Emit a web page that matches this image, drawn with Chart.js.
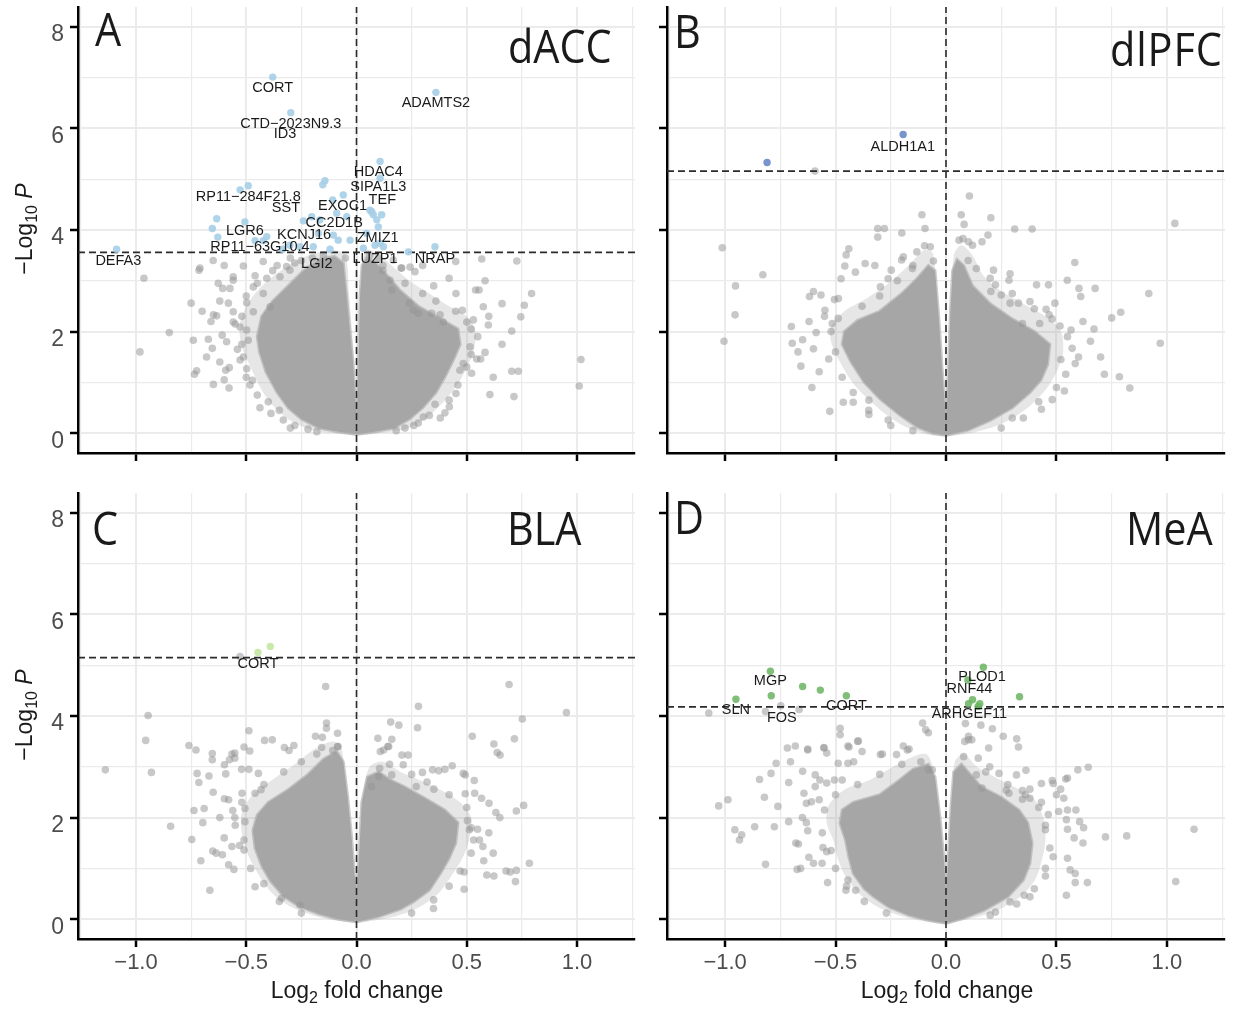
<!DOCTYPE html>
<html>
<head>
<meta charset="utf-8">
<script src="https://cdn.jsdelivr.net/npm/chart.js@4.4.1/dist/chart.umd.min.js"></script>
<style>
  html,body{margin:0;padding:0;background:#fff;}
  body{width:1238px;height:1010px;position:relative;overflow:hidden;font-family:"Liberation Sans",Arial,sans-serif;}
  canvas{position:absolute;}
  .big{position:absolute;font-family:"Open Sans",sans-serif;font-size:46px;line-height:46px;color:#1a1a1a;transform-origin:0 0;transform:scaleX(0.9);white-space:nowrap;}
  .ytitle{position:absolute;width:200px;height:26px;line-height:26px;font-size:23px;color:#1a1a1a;text-align:center;transform:rotate(-90deg);transform-origin:50% 50%;white-space:nowrap;}
  .xtitle{position:absolute;width:300px;height:26px;line-height:26px;font-size:23px;color:#1a1a1a;text-align:center;white-space:nowrap;}
  sub{font-size:16px;line-height:0;vertical-align:-5px;}
</style>
</head>
<body>
<canvas id="cA" width="640" height="480" style="left:0px;top:0px"></canvas>
<canvas id="cB" width="598" height="480" style="left:640px;top:0px"></canvas>
<canvas id="cC" width="640" height="530" style="left:0px;top:480px"></canvas>
<canvas id="cD" width="598" height="530" style="left:640px;top:480px"></canvas>

<div class="big" style="left:95px;top:5px">A</div>
<div class="big" style="left:674px;top:7px">B</div>
<div class="big" style="left:92px;top:504px">C</div>
<div class="big" style="left:674px;top:493px">D</div>
<div class="big" style="left:508px;top:22px">dACC</div>
<div class="big" style="left:1110px;top:25px;letter-spacing:1px">dlPFC</div>
<div class="big" style="left:507px;top:504px">BLA</div>
<div class="big" style="left:1126px;top:504px">MeA</div>

<div class="ytitle" style="left:-76px;top:216px">&minus;Log<sub>10</sub> <i>P</i></div>
<div class="ytitle" style="left:-76px;top:702px">&minus;Log<sub>10</sub> <i>P</i></div>
<div class="xtitle" style="left:207px;top:977px">Log<sub>2</sub> fold change</div>
<div class="xtitle" style="left:797px;top:977px">Log<sub>2</sub> fold change</div>

<script>
// ---------- axes ----------
const X_MIN = -1.263, X_MAX = 1.263, Y_MIN = -0.39, Y_MAX = 8.39;
const xGridValues = [-1.25, -1, -0.75, -0.5, -0.25, 0, 0.25, 0.5, 0.75, 1, 1.25];
const xMajorValues = [-1, -0.5, 0, 0.5, 1];
const xTickText = ['\u22121.0', '\u22120.5', '0.0', '0.5', '1.0'];
const yGridValues = [0, 1, 2, 3, 4, 5, 6, 7, 8];
const yMajorValues = [0, 2, 4, 6, 8];
const yTickText = ['0', '2', '4', '6', '8'];

// ---------- significance thresholds (-log10 P) ----------
const thresholdA = 3.56, thresholdB = 5.16, thresholdC = 5.15, thresholdD = 4.18;

// ---------- dense cores of the gene clouds ----------
const coreA = [[0,-0.02],[-0.08,0.03],[-0.17,0.1],[-0.25,0.28],[-0.31,0.5],[-0.36,0.8],[-0.41,1.2],[-0.44,1.6],[-0.45,1.9],[-0.43,2.3],[-0.38,2.6],[-0.31,2.9],[-0.24,3.2],[-0.17,3.42],[-0.1,3.48],[-0.06,3.35],[-0.045,2.7],[-0.03,2.0],[-0.016,1.4],[-0.006,0.7],[0,0.35],[0.005,0.7],[0.01,1.5],[0.016,2.7],[0.025,3.3],[0.045,3.45],[0.08,3.38],[0.14,3.1],[0.2,2.8],[0.28,2.5],[0.38,2.25],[0.46,2.05],[0.47,1.75],[0.44,1.45],[0.4,1.1],[0.36,0.8],[0.3,0.5],[0.24,0.28],[0.17,0.1],[0.08,0.03],[0,-0.02]];
const coreB = [[0,-0.04],[-0.06,0.0],[-0.13,0.12],[-0.21,0.36],[-0.3,0.68],[-0.37,1.0],[-0.43,1.4],[-0.47,1.75],[-0.46,2.0],[-0.4,2.22],[-0.3,2.4],[-0.2,2.75],[-0.13,3.05],[-0.08,3.3],[-0.05,3.2],[-0.033,2.3],[-0.018,1.3],[-0.006,0.6],[0,0.35],[0.005,0.6],[0.012,1.4],[0.02,2.4],[0.03,3.2],[0.05,3.42],[0.08,3.3],[0.12,2.9],[0.2,2.55],[0.3,2.25],[0.4,2.0],[0.47,1.75],[0.46,1.35],[0.43,1.05],[0.38,0.8],[0.3,0.5],[0.2,0.25],[0.1,0.06],[0,-0.04]];
const coreC = [[0,-0.05],[-0.08,0.0],[-0.17,0.1],[-0.26,0.25],[-0.33,0.45],[-0.39,0.75],[-0.43,1.05],[-0.46,1.4],[-0.47,1.75],[-0.45,2.05],[-0.4,2.3],[-0.31,2.55],[-0.22,2.85],[-0.15,3.15],[-0.09,3.3],[-0.06,3.1],[-0.04,2.4],[-0.022,1.6],[-0.01,0.9],[0,0.6],[0.007,0.9],[0.016,1.6],[0.024,2.3],[0.05,2.8],[0.1,2.9],[0.15,2.75],[0.22,2.6],[0.31,2.38],[0.4,2.15],[0.46,1.9],[0.45,1.5],[0.42,1.2],[0.38,0.9],[0.33,0.57],[0.26,0.35],[0.2,0.2],[0.1,0.05],[0,-0.05]];
const coreD = [[0,-0.08],[-0.08,-0.02],[-0.17,0.08],[-0.26,0.24],[-0.33,0.45],[-0.37,0.6],[-0.42,0.9],[-0.44,1.23],[-0.455,1.56],[-0.48,1.89],[-0.47,2.15],[-0.42,2.3],[-0.3,2.45],[-0.21,2.74],[-0.15,2.95],[-0.08,3.05],[-0.05,2.8],[-0.027,2.0],[-0.01,1.2],[0,0.55],[0.008,1.0],[0.015,1.6],[0.024,2.3],[0.035,2.9],[0.07,3.05],[0.11,2.85],[0.16,2.6],[0.25,2.4],[0.33,2.15],[0.37,1.9],[0.39,1.5],[0.38,1.1],[0.35,0.77],[0.28,0.44],[0.17,0.17],[0.08,0.02],[0,-0.08]];

// ---------- looser fringe around each core ----------
const fringeA = [[0,-0.05],[-0.1,0.0],[-0.2,0.06],[-0.3,0.25],[-0.37,0.5],[-0.43,0.85],[-0.48,1.3],[-0.52,1.7],[-0.53,2.1],[-0.5,2.5],[-0.44,2.85],[-0.36,3.15],[-0.27,3.4],[-0.18,3.55],[-0.1,3.6],[-0.05,3.5],[-0.035,2.8],[-0.02,2.0],[-0.008,1.2],[0,0.5],[0.008,1.2],[0.015,2.2],[0.022,3.0],[0.04,3.6],[0.09,3.55],[0.16,3.3],[0.24,3.0],[0.33,2.75],[0.42,2.5],[0.5,2.3],[0.54,2.0],[0.53,1.6],[0.49,1.2],[0.44,0.85],[0.38,0.55],[0.31,0.28],[0.22,0.08],[0.1,0.0],[0,-0.05]];
const fringeB = [[0,-0.07],[-0.09,-0.02],[-0.17,0.1],[-0.25,0.3],[-0.34,0.62],[-0.42,0.98],[-0.48,1.4],[-0.52,1.8],[-0.52,2.1],[-0.46,2.4],[-0.36,2.65],[-0.26,2.95],[-0.17,3.3],[-0.1,3.6],[-0.06,3.55],[-0.04,2.6],[-0.022,1.5],[-0.008,0.7],[0,0.3],[0.007,0.7],[0.016,1.6],[0.026,2.6],[0.035,3.5],[0.07,3.7],[0.12,3.5],[0.17,3.1],[0.25,2.8],[0.35,2.55],[0.45,2.3],[0.52,2.0],[0.53,1.6],[0.5,1.2],[0.45,0.85],[0.37,0.5],[0.26,0.2],[0.13,0.02],[0,-0.07]];
const fringeC = [[0,-0.08],[-0.1,-0.02],[-0.2,0.08],[-0.3,0.25],[-0.38,0.5],[-0.44,0.85],[-0.49,1.25],[-0.52,1.7],[-0.52,2.1],[-0.47,2.45],[-0.38,2.75],[-0.28,3.05],[-0.19,3.35],[-0.11,3.5],[-0.07,3.4],[-0.05,2.6],[-0.028,1.7],[-0.012,0.9],[0,0.55],[0.009,0.9],[0.02,1.7],[0.03,2.5],[0.06,3.0],[0.12,3.1],[0.2,2.9],[0.28,2.75],[0.38,2.55],[0.47,2.3],[0.52,2.0],[0.51,1.55],[0.48,1.2],[0.43,0.85],[0.37,0.5],[0.29,0.25],[0.18,0.06],[0,-0.08]];
const fringeD = [[0,-0.1],[-0.1,-0.04],[-0.2,0.06],[-0.3,0.22],[-0.38,0.45],[-0.45,0.8],[-0.49,1.2],[-0.51,1.56],[-0.54,1.9],[-0.53,2.25],[-0.46,2.55],[-0.34,2.75],[-0.24,3.0],[-0.15,3.2],[-0.09,3.25],[-0.06,3.0],[-0.035,2.1],[-0.015,1.2],[0,0.5],[0.012,1.1],[0.02,1.7],[0.03,2.4],[0.04,3.1],[0.08,3.25],[0.14,3.0],[0.22,2.8],[0.31,2.6],[0.4,2.35],[0.44,2.0],[0.45,1.55],[0.43,1.1],[0.4,0.75],[0.33,0.42],[0.22,0.15],[0.1,0.0],[0,-0.1]];

// ---------- non-significant genes outside the dense core ----------
const grayA = [[-0.964,3.05],[-0.714,3.21],[-0.75,2.56],[-0.849,1.98],[-0.982,1.60],[-0.74,1.83],[-0.672,1.85],[-0.654,1.67],[-0.609,1.93],[-0.589,1.80],[-0.735,1.16],[-0.725,1.23],[-0.649,0.96],[-0.578,0.89],[-0.593,1.24],[-0.577,1.29],[-0.54,1.65],[-0.498,1.27],[-0.483,0.95],[-0.472,1.04],[-0.438,0.50],[-0.388,0.39],[-0.332,0.26],[-0.627,2.95],[-0.607,2.85],[-0.574,2.85],[-0.559,3.01],[-0.513,3.29],[-0.423,3.38],[-0.649,2.33],[-0.634,2.31],[-0.581,2.56],[-0.559,2.39],[-0.498,2.57],[-0.468,2.39],[-0.559,2.19],[-0.528,2.09],[-0.498,2.03],[-0.468,2.88],[-0.407,3.05],[-0.347,3.08],[-0.302,3.21],[-0.423,2.75],[-0.392,2.49],[-0.513,1.50],[-0.528,1.44],[-0.491,1.83],[-0.71,3.25],[-0.559,3.08],[-0.317,3.28],[-0.25,3.4],[-0.2,3.45],[-0.15,3.5],[-0.05,3.45],[-0.28,3.35],[-0.38,3.2],[-0.46,3.1],[0.568,3.43],[0.727,3.39],[0.583,3.0],[0.54,2.82],[0.556,2.82],[0.451,2.75],[0.794,2.75],[0.761,2.52],[0.745,2.29],[0.704,2.01],[0.575,2.49],[0.598,2.13],[0.48,2.42],[0.583,1.59],[0.545,1.46],[0.563,1.46],[0.704,1.22],[0.734,1.22],[1.018,1.45],[1.01,0.93],[0.605,0.76],[0.714,0.72],[0.484,1.37],[0.522,1.18],[0.469,1.24],[0.451,0.78],[0.421,0.52],[0.401,0.4],[0.356,0.57],[0.303,0.32],[0.379,2.33],[0.394,2.19],[0.341,2.36],[0.258,2.42],[0.28,2.36],[0.24,2.56],[0.202,3.25],[0.243,3.27],[0.265,3.18],[0.152,3.01],[0.16,2.82],[0.515,1.7],[0.53,2.23],[0.5,2.19],[0.167,3.41],[0.205,3.25],[0.1,3.45],[0.06,3.5],[0.12,3.3],[-0.28,0.15],[-0.22,0.08],[-0.35,0.45],[0.26,0.15],[0.33,0.35],[0.22,0.1],[-0.52,2.3],[-0.55,2.15],[-0.5,2.7],[-0.45,2.95],[-0.36,3.3],[-0.3,3.45],[-0.52,1.75],[-0.5,1.1],[-0.45,0.75],[-0.4,0.62],[-0.3,0.1],[-0.18,0.03],[0.42,0.65],[0.46,0.95],[0.5,1.3],[0.52,1.55],[0.55,1.9],[0.52,2.05],[0.45,2.4],[0.36,2.6],[0.3,2.75],[0.22,2.95],[0.12,3.2],[0.18,0.05],[0.38,0.3],[0.28,0.2],[-0.62,2.6],[-0.66,2.2],[-0.7,2.4],[-0.68,1.5],[-0.62,1.4],[-0.6,1.05],[0.62,1.1],[0.66,1.75],[0.6,2.3],[0.66,2.55],[0.35,2.9],[0.42,3.05],[0.3,3.3],[-0.6,3.3],[-0.65,3.4],[0.45,3.38]];
const grayB = [[0.106,4.67],[1.036,4.13],[-1.013,3.65],[-0.829,3.12],[-0.953,2.90],[-0.955,2.33],[-1.005,1.81],[-0.109,4.3],[-0.309,4.03],[-0.279,4.03],[-0.309,3.86],[-0.2,3.94],[-0.095,4.03],[0.069,4.3],[0.203,4.24],[0.311,4.02],[0.39,4.02],[0.19,3.9],[0.082,4.11],[0.583,3.36],[0.549,3.01],[0.602,2.85],[0.675,2.85],[0.61,2.69],[0.918,2.75],[0.41,2.92],[0.464,2.92],[0.75,2.27],[0.791,2.38],[0.97,1.77],[0.654,1.81],[0.717,1.16],[0.785,1.11],[0.832,0.89],[0.536,0.83],[0.481,0.66],[0.432,0.47],[0.542,1.16],[0.585,1.37],[0.571,1.67],[0.493,2.56],[0.453,2.44],[0.467,2.33],[0.516,2.11],[0.566,2.03],[-0.618,2.69],[-0.6,2.79],[-0.566,2.72],[-0.696,1.77],[-0.649,1.84],[-0.588,1.98],[-0.6,1.66],[-0.657,1.32],[-0.574,1.21],[-0.607,0.9],[-0.526,0.43],[-0.465,0.61],[-0.531,1.46],[-0.475,3.04],[-0.44,3.63],[-0.452,3.51],[-0.366,3.34],[-0.322,3.3],[-0.458,3.29],[-0.41,3.17],[-0.548,2.42],[-0.505,2.63],[-0.487,2.65],[-0.515,2.16],[-0.488,2.26],[-0.349,0.65],[-0.42,0.61],[-0.262,0.26],[-0.349,0.37],[-0.248,3.21],[-0.193,3.47],[-0.201,3.41],[-0.132,3.57],[-0.097,3.69],[-0.071,3.67],[-0.057,3.39],[-0.152,3.24],[-0.297,2.88],[-0.262,3.04],[0.059,3.8],[0.077,3.83],[0.102,3.77],[0.12,3.7],[0.163,3.77],[0.137,3.24],[0.215,3.21],[0.29,3.14],[0.285,3.01],[0.224,2.92],[0.203,2.79],[0.25,2.72],[0.29,2.56],[0.328,2.56],[0.38,2.59],[0.346,2.16],[0.424,2.16],[0.35,0.3],[0.25,0.1],[-0.15,0.05],[-0.593,5.16],[-0.52,2.0],[-0.5,1.6],[-0.47,1.1],[-0.42,0.8],[-0.35,0.45],[-0.25,0.15],[-0.38,2.5],[-0.3,2.7],[-0.22,3.0],[-0.15,3.3],[-0.55,2.3],[-0.62,2.2],[0.52,1.45],[0.5,0.9],[0.42,0.62],[0.3,0.3],[0.55,1.9],[0.48,2.25],[0.4,2.45],[0.3,2.75],[0.2,3.05],[0.1,3.4],[0.62,2.2],[0.6,1.5],[-0.7,2.1],[-0.67,1.6],[0.7,1.5],[0.67,2.05]];
const grayC = [[-0.14,4.58],[0.692,4.62],[0.952,4.07],[-0.945,4.01],[-0.956,3.52],[0.281,4.19],[0.277,3.77],[0.752,3.94],[0.155,3.88],[0.192,3.82],[0.097,3.56],[0.16,3.54],[0.123,3.33],[0.146,3.4],[0.206,3.23],[0.234,3.23],[0.525,3.6],[0.623,3.45],[0.638,3.28],[0.651,3.23],[0.716,3.55],[-0.136,3.86],[-0.136,3.76],[-0.086,3.66],[-0.086,3.4],[-0.186,3.6],[-0.155,3.58],[-0.488,3.71],[-0.51,3.39],[-0.484,3.31],[-0.417,3.52],[-0.382,3.53],[-0.76,3.42],[-0.728,3.33],[-0.654,3.26],[-0.552,3.27],[-0.565,3.25],[-0.327,3.38],[-0.284,3.42],[-0.306,3.32],[-0.158,3.38],[-0.084,3.4],[-0.108,3.32],[-1.139,2.94],[-0.93,2.89],[-0.843,1.83],[-0.747,1.57],[-0.706,1.15],[-0.665,0.57],[-0.654,3.14],[-0.723,2.87],[-0.715,2.69],[-0.669,2.82],[-0.737,2.14],[-0.691,2.18],[-0.697,1.9],[-0.599,3.04],[-0.593,2.86],[-0.576,3.14],[-0.552,3.17],[-0.521,2.95],[-0.488,2.95],[-0.445,2.87],[-0.519,2.48],[-0.599,2.37],[-0.58,2.35],[-0.561,2.14],[-0.506,2.18],[-0.552,2.0],[-0.506,1.92],[-0.636,1.3],[-0.608,1.27],[-0.652,1.34],[-0.565,1.43],[-0.58,1.07],[-0.556,0.98],[-0.46,0.64],[-0.34,0.41],[-0.256,0.28],[-0.51,1.56],[-0.51,1.36],[-0.46,2.48],[-0.433,2.55],[0.784,1.1],[0.725,0.96],[0.678,0.95],[0.697,0.93],[0.721,0.74],[0.591,0.87],[0.623,0.85],[0.488,0.93],[0.488,0.59],[0.349,0.21],[0.758,2.24],[0.725,2.13],[0.632,2.1],[0.601,2.28],[0.567,2.38],[0.534,2.73],[0.536,2.48],[0.493,2.47],[0.434,3.02],[0.401,2.95],[0.373,2.92],[0.484,2.87],[0.493,2.84],[0.549,1.77],[0.558,1.56],[0.531,1.56],[0.573,1.43],[0.577,1.15],[0.512,1.76],[0.503,1.94],[0.299,2.89],[0.345,2.94],[0.271,2.61],[0.351,2.56],[0.212,3.04],[0.105,2.97],[0.16,2.84],[0.101,2.81],[0.068,2.61],[0.108,3.3],[0.142,3.4],[-0.528,5.17],[-0.52,2.3],[-0.55,1.85],[-0.53,1.45],[-0.48,1.0],[-0.42,0.7],[-0.35,0.35],[-0.25,0.12],[-0.42,2.65],[-0.33,2.9],[-0.25,3.1],[-0.18,3.25],[0.52,1.8],[0.52,1.3],[0.47,0.95],[0.42,0.65],[0.35,0.38],[0.25,0.12],[0.5,2.2],[0.42,2.45],[0.32,2.7],[0.25,2.85],[0.15,3.05],[-0.62,2.0],[-0.6,1.6],[0.6,1.7],[0.62,1.3],[0.65,2.0],[-0.65,2.5]];
const grayD = [[-1.074,4.06],[-0.817,4.09],[-0.748,4.2],[-0.665,4.13],[-0.106,3.86],[-0.092,3.73],[-0.08,3.67],[0.088,3.85],[0.158,3.82],[0.21,3.75],[0.259,3.6],[0.32,3.55],[0.328,3.39],[-0.479,3.76],[-0.479,3.63],[-0.397,3.51],[-0.193,3.41],[-0.167,3.35],[-0.718,3.37],[-0.682,3.41],[-0.626,3.35],[-0.553,3.38],[-0.439,3.39],[-0.38,3.3],[-0.288,3.25],[0.102,3.6],[0.117,3.53],[0.193,3.37],[-1.029,2.23],[-0.987,2.35],[-0.956,1.76],[-0.925,1.66],[-0.935,1.56],[-0.866,1.82],[-0.817,1.08],[-0.777,1.82],[-0.844,2.75],[-0.792,2.87],[-0.769,3.07],[-0.822,2.4],[-0.761,2.22],[-0.712,1.92],[-0.712,2.69],[-0.704,3.1],[-0.674,0.98],[-0.658,1.0],[-0.668,1.48],[-0.626,1.74],[-0.632,1.9],[-0.621,1.22],[-0.649,2.91],[-0.592,2.84],[-0.643,2.48],[-0.571,2.74],[-0.54,2.68],[-0.592,2.61],[-0.632,2.28],[-0.609,2.31],[-0.574,2.35],[-0.536,0.72],[-0.557,1.41],[-0.54,1.33],[-0.561,1.1],[-0.453,0.57],[-0.409,0.57],[-0.444,0.77],[-0.626,3.33],[-0.552,3.37],[-0.54,3.27],[-0.488,3.07],[-0.444,3.07],[-0.418,3.1],[-0.505,2.74],[-0.47,2.74],[-0.297,3.24],[-0.224,3.24],[-0.175,3.33],[-0.4,3.5],[-0.444,3.41],[-0.114,3.1],[-0.08,2.94],[-0.062,2.94],[1.123,1.77],[1.04,0.74],[0.722,1.62],[0.818,1.64],[0.623,1.8],[0.62,1.5],[0.562,0.97],[0.585,0.9],[0.585,0.72],[0.64,0.72],[0.545,0.47],[0.644,2.99],[0.597,2.94],[0.55,2.78],[0.542,2.76],[0.519,2.56],[0.533,2.38],[0.485,2.67],[0.432,2.67],[0.481,2.73],[0.432,2.3],[0.38,2.38],[0.346,2.36],[0.51,2.12],[0.55,2.15],[0.588,2.15],[0.545,1.96],[0.55,1.77],[0.605,1.92],[0.463,2.06],[0.45,1.76],[0.485,1.23],[0.45,0.85],[0.38,0.44],[0.354,0.47],[0.29,0.34],[0.224,0.14],[0.319,2.84],[0.362,2.93],[0.346,2.53],[0.38,2.56],[0.24,2.87],[0.198,3.0],[0.146,3.17],[0.137,2.84],[0.163,2.58],[0.273,2.54],[0.285,2.48],[0.085,3.5],[0.102,3.53],[-0.55,2.15],[-0.56,1.7],[-0.52,1.35],[-0.5,1.0],[-0.45,0.65],[-0.37,0.35],[-0.27,0.12],[-0.5,2.45],[-0.4,2.65],[-0.3,2.85],[-0.2,3.05],[0.45,1.85],[0.47,1.4],[0.45,1.0],[0.4,0.6],[0.32,0.3],[0.2,0.08],[0.42,2.2],[0.36,2.45],[0.28,2.65],[0.18,2.9],[0.08,3.2],[-0.65,2.0],[-0.68,1.5],[0.55,1.2],[0.58,1.6],[-0.6,1.1],[0.5,2.45]];

// ---------- significant genes ----------
const sigA = [[-0.38,7.01],[-0.298,6.31],[0.36,6.71],[-1.088,3.62],[-0.528,4.79],[-0.491,4.87],[-0.634,4.22],[-0.654,4.03],[-0.506,4.16],[-0.629,3.86],[-0.46,3.79],[-0.423,3.79],[-0.143,4.97],[-0.153,4.89],[-0.06,4.69],[-0.108,4.59],[-0.241,4.18],[-0.203,4.26],[-0.166,4.2],[-0.09,4.33],[-0.044,4.26],[-0.173,3.93],[-0.105,3.9],[-0.083,3.8],[-0.029,3.8],[-0.302,3.7],[-0.256,3.67],[-0.196,3.67],[-0.407,3.87],[0.107,5.35],[0.107,5.02],[0.061,4.39],[0.076,4.3],[0.114,4.3],[0.092,4.2],[0.046,3.93],[0.084,3.7],[0.122,3.67],[0.031,3.64],[0.069,4.36],[0.099,4.06],[0.356,3.67],[0.235,3.57],[0.107,3.74],[-0.335,3.62],[-0.12,3.62]];
const sigB = [[-0.81,5.33],[-0.194,5.88]];
const sigC = [[-0.447,5.25],[-0.391,5.37]];
const sigD = [[-0.795,4.88],[-0.791,4.4],[-0.951,4.33],[-0.649,4.58],[-0.569,4.51],[-0.451,4.4],[0.169,4.96],[0.099,4.71],[0.333,4.38],[0.12,4.32],[0.102,4.24],[0.153,4.24],[0.145,4.19]];

// ---------- gene labels and where they sit (data units) ----------
const namesA = ['CORT','CTD\u22122023N9.3','ID3','ADAMTS2','HDAC4','SIPA1L3','TEF','RP11\u2212284F21.8','SST','EXOC1','CC2D1B','LGR6','KCNJ16','ZMIZ1','RP11\u221263G10.4','DEFA3','LGI2','LUZP1','NRAP'];
const labelAtA = [[-0.38,6.79],[-0.298,6.08],[-0.324,5.89],[0.36,6.5],[0.099,5.14],[0.099,4.85],[0.117,4.6],[-0.491,4.64],[-0.32,4.43],[-0.063,4.47],[-0.101,4.13],[-0.506,3.98],[-0.238,3.9],[0.096,3.84],[-0.438,3.66],[-1.08,3.38],[-0.18,3.33],[0.084,3.42],[0.356,3.43]];
const namesB = ['ALDH1A1'];
const labelAtB = [[-0.196,5.64]];
const namesC = ['CORT'];
const labelAtC = [[-0.447,5.03]];
const namesD = ['MGP','SLN','FOS','CORT','PLOD1','RNF44','ARHGEF11'];
const labelAtD = [[-0.795,4.68],[-0.951,4.12],[-0.743,3.97],[-0.451,4.19],[0.163,4.76],[0.106,4.54],[0.106,4.04]];

// ---------- drawing ----------
const near = (a, v) => a.some(m => Math.abs(m - v) < 1e-9);
const toPts = arr => arr.map(p => ({x: p[0], y: p[1]}));

const geneLabelPlugin = {
  id: 'geneLabels',
  afterDatasetsDraw(chart, args, opts) {
    if (!opts || !opts.names) return;
    const {ctx, scales} = chart;
    ctx.save();
    ctx.font = '14.5px "Liberation Sans", Arial, sans-serif';
    ctx.fillStyle = '#1a1a1a';
    ctx.textAlign = 'center';
    ctx.textBaseline = 'middle';
    opts.names.forEach((n, i) => {
      ctx.fillText(n, scales.x.getPixelForValue(opts.at[i][0]), scales.y.getPixelForValue(opts.at[i][1]));
    });
    ctx.restore();
  }
};

function panel(id, o) {
  const dash = {showLine: true, borderColor: '#2b2b2b', borderWidth: 1.6, borderDash: [7, 4], pointRadius: 0, fill: false, order: 2};
  new Chart(document.getElementById(id), {
    type: 'scatter',
    data: {
      datasets: [
        {data: toPts(o.sig), backgroundColor: o.sigColor, borderWidth: 0, pointRadius: 3.7, order: 1},
        Object.assign({data: [{x: 0, y: Y_MIN}, {x: 0, y: Y_MAX}]}, dash),
        Object.assign({data: [{x: X_MIN, y: o.thr}, {x: X_MAX, y: o.thr}]}, dash),
        {data: toPts(o.gray), backgroundColor: 'rgba(150,150,150,0.52)', borderWidth: 0, pointRadius: 3.8, order: 3},
        {data: toPts(o.core), showLine: true, fill: 'shape', backgroundColor: '#a6a6a6', borderColor: 'rgba(166,166,166,0.6)', borderWidth: 3, pointRadius: 0, tension: 0, order: 4},
        {data: toPts(o.fringe), showLine: true, fill: 'shape', backgroundColor: 'rgba(166,166,166,0.28)', borderWidth: 0, pointRadius: 0, tension: 0.3, order: 5}
      ]
    },
    options: {
      responsive: false,
      animation: false,
      events: [],
      devicePixelRatio: 1,
      layout: {padding: {top: o.padTop, right: o.padRight, left: 0, bottom: 0}},
      plugins: {legend: {display: false}, tooltip: {enabled: false}, geneLabels: {names: o.names, at: o.labelAt}},
      scales: {
        x: {
          type: 'linear', min: X_MIN, max: X_MAX,
          afterBuildTicks: s => { s.ticks = xGridValues.map(v => ({value: v})); },
          afterFit: s => { s.height = o.xHeight; s.paddingLeft = 0; s.paddingRight = 0; },
          ticks: {
            autoSkip: false, maxRotation: 0, minRotation: 0, padding: 3, color: '#4d4d4d',
            font: {family: '"Liberation Sans", Arial, sans-serif', size: 22},
            callback: v => { if (!o.showX) return ''; const i = xMajorValues.findIndex(m => Math.abs(m - v) < 1e-9); return i < 0 ? '' : xTickText[i]; }
          },
          grid: {
            color: '#ebebeb',
            lineWidth: c => near(xMajorValues, c.tick.value) ? 2 : 1.2,
            drawTicks: true, tickLength: 8, tickWidth: 2.5,
            tickColor: c => near(xMajorValues, c.tick.value) ? '#000' : 'rgba(0,0,0,0)'
          },
          border: {display: true, color: '#000', width: 2.5}
        },
        y: {
          type: 'linear', min: Y_MIN, max: Y_MAX,
          afterBuildTicks: s => { s.ticks = yGridValues.map(v => ({value: v})); },
          afterFit: s => { s.width = o.yWidth; s.paddingTop = 0; s.paddingBottom = 0; },
          ticks: {
            autoSkip: false, padding: 6, labelOffset: 8, color: '#4d4d4d',
            font: {family: '"Liberation Sans", Arial, sans-serif', size: 23},
            callback: v => { if (!o.showY) return ''; const i = yMajorValues.findIndex(m => Math.abs(m - v) < 1e-9); return i < 0 ? '' : yTickText[i]; }
          },
          grid: {
            color: '#ebebeb',
            lineWidth: c => near(yMajorValues, c.tick.value) ? 2 : 1.2,
            drawTicks: true, tickLength: 8, tickWidth: 2.5,
            tickColor: c => near(yMajorValues, c.tick.value) ? '#000' : 'rgba(0,0,0,0)'
          },
          border: {display: true, color: '#000', width: 2.5}
        }
      }
    },
    plugins: [geneLabelPlugin]
  });
}

panel('cA', {core: coreA, fringe: fringeA, gray: grayA, sig: sigA, sigColor: 'rgba(166,206,230,0.9)', thr: thresholdA, names: namesA, labelAt: labelAtA,
  showX: false, showY: true, yWidth: 78, xHeight: 27, padTop: 7, padRight: 5});
panel('cB', {core: coreB, fringe: fringeB, gray: grayB, sig: sigB, sigColor: 'rgba(95,130,195,0.85)', thr: thresholdB, names: namesB, labelAt: labelAtB,
  showX: false, showY: false, yWidth: 27, xHeight: 27, padTop: 7, padRight: 13});
panel('cC', {core: coreC, fringe: fringeC, gray: grayC, sig: sigC, sigColor: 'rgba(195,230,160,0.9)', thr: thresholdC, names: namesC, labelAt: labelAtC,
  showX: true, showY: true, yWidth: 78, xHeight: 71, padTop: 13, padRight: 5});
panel('cD', {core: coreD, fringe: fringeD, gray: grayD, sig: sigD, sigColor: 'rgba(105,180,95,0.85)', thr: thresholdD, names: namesD, labelAt: labelAtD,
  showX: true, showY: false, yWidth: 27, xHeight: 71, padTop: 13, padRight: 13});
</script>
</body>
</html>
